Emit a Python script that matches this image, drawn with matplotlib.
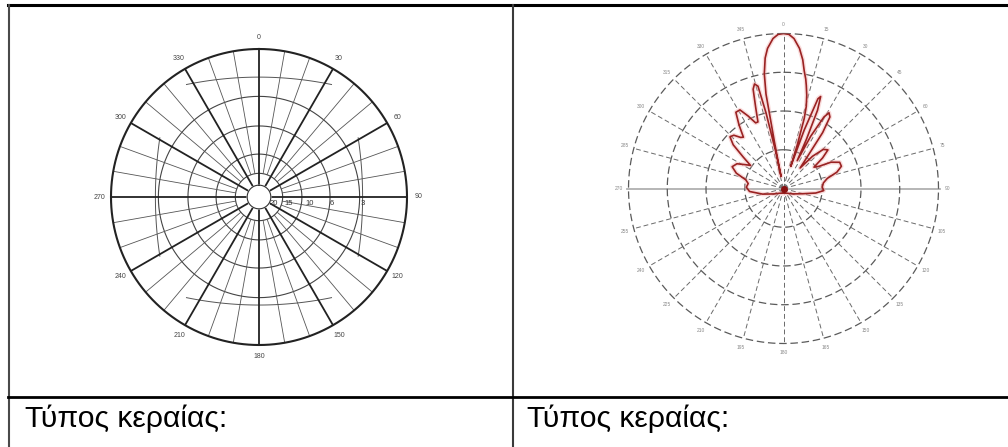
import numpy as np
import matplotlib
matplotlib.use("Agg")
import matplotlib.pyplot as plt

plt.rcParams['font.family'] = ['Liberation Sans', 'DejaVu Sans']

W, H = 1008, 447

# === Data ===
cell_label = "Τύπος κεραίας:"

# left chart: dB grid
left_angle_labels = list(range(0, 360, 30))
left_ring_r = [0.16, 0.29, 0.48, 0.68]
left_db_labels = ["20", "15", "10", "6", "3"]
left_db_r = [0.10, 0.20, 0.345, 0.49, 0.70]

# right chart: grid + measured pattern
right_ring_r = [0.25, 0.5, 0.75, 1.0]
right_angle_labels = list(range(0, 360, 15))
pattern_deg = [-180, -140, -120, -105, -95, -88, -82, -77, -72, -67, -62, -58, -55,
               -52, -49, -46, -43, -40, -38, -35, -32, -29, -26, -23, -21, -19, -17,
               -15.5, -14, -13, -12, -11.5, -11, -10.5, -9.5, -8, -6.5, -4, -2, 0,
               2, 4, 6.5, 8.5, 10, 11.5, 12.5, 14, 15.5, 16.5, 17.5, 18.2, 19.5, 21, 22,
               23.5, 25, 26.2, 27.5, 29.5, 31, 33, 35, 37, 39, 42, 45.5, 49, 52, 55, 58, 61, 65,
               69, 73, 77, 82, 88, 93, 98, 105, 120, 140, 180]
pattern_r = [0.03, 0.04, 0.07, 0.14, 0.22, 0.24, 0.23, 0.25, 0.32, 0.36, 0.34, 0.29, 0.26,
             0.33, 0.43, 0.48, 0.47, 0.43, 0.42, 0.50, 0.58, 0.58, 0.52, 0.46, 0.46, 0.55, 0.67,
             0.70, 0.68, 0.50, 0.25, 0.08, 0.30, 0.62, 0.75, 0.85, 0.91, 0.97, 0.995, 1.0,
             0.995, 0.97, 0.91, 0.84, 0.77, 0.72, 0.68, 0.62, 0.55, 0.47, 0.30, 0.15, 0.40, 0.62, 0.64,
             0.55, 0.35, 0.20, 0.38, 0.53, 0.57, 0.55, 0.44, 0.25, 0.17, 0.28, 0.36, 0.38, 0.32, 0.24, 0.27, 0.35, 0.40,
             0.40, 0.36, 0.29, 0.26, 0.25, 0.26, 0.21, 0.13, 0.07, 0.04, 0.03]

fig = plt.figure(figsize=(W / 100, H / 100), dpi=100)

# === table frame (pixel coords) ===
bg = fig.add_axes([0, 0, 1, 1])
bg.set_xlim(0, W)
bg.set_ylim(H, 0)
bg.axis('off')
bg.plot([8, W], [4.5, 4.5], color='black', lw=2.2)
bg.plot([8.5, 8.5], [4.5, H], color='#4a4a4a', lw=1.5)
bg.plot([513, 513], [4.5, H], color='#3a3a3a', lw=1.5)
bg.plot([8, W], [396.5, 396.5], color='black', lw=2.0)
bg.text(25, 427, cell_label, fontsize=21.7, color='black', va='baseline', ha='left')
bg.text(527, 427, cell_label, fontsize=21.7, color='black', va='baseline', ha='left')


def polar_ax(cx, cy, r):
    ax = fig.add_axes([(cx - r) / W, 1 - (cy + r) / H, 2 * r / W, 2 * r / H], projection='polar')
    ax.set_theta_zero_location('N')
    ax.set_theta_direction(-1)
    ax.set_ylim(0, 1)
    ax.grid(False)
    ax.set_xticks([])
    ax.set_yticks([])
    ax.spines['polar'].set_visible(False)
    ax.patch.set_alpha(0)
    return ax


def xy_curve(ax, x, y, **kw):
    # draw a curve given in cartesian units of the unit circle
    ax.plot(np.arctan2(x, y), np.hypot(x, y), **kw)


th = np.linspace(0, 2 * np.pi, 361)

# === left chart ===
axl = polar_ax(259, 197, 148)
for rr in left_ring_r:
    axl.plot(th, np.full_like(th, rr), color='#444444', lw=0.8)
# flattened arcs of the elevation grid
t = np.linspace(-0.49, 0.49, 60)
xy_curve(axl, t, 0.81 - 0.05 * (t / 0.49) ** 2, color='#555555', lw=0.7)
xy_curve(axl, t, -(0.73 - 0.05 * (t / 0.49) ** 2), color='#555555', lw=0.7)
s = np.linspace(-0.40, 0.40, 60)
xy_curve(axl, 0.70 - 0.03 * (s / 0.40) ** 2, s, color='#555555', lw=0.7)
xy_curve(axl, -(0.70 - 0.03 * (s / 0.40) ** 2), s, color='#555555', lw=0.7)
for a in range(0, 360, 10):
    if a % 30:
        axl.plot([np.radians(a)] * 2, [0.16, 1], color='#555555', lw=0.6)
for a in left_angle_labels:
    axl.plot([np.radians(a)] * 2, [0.08, 1], color='#222222', lw=1.3)
axl.plot(th, np.ones_like(th), color='#222222', lw=1.5, clip_on=False)
axl.fill(th, np.full_like(th, 0.08), color='white', zorder=5)
axl.plot(th, np.full_like(th, 0.08), color='#333333', lw=0.8, zorder=6)
for a in left_angle_labels:
    axl.text(np.radians(a), 1.08, str(a), fontsize=5, color='#444444',
             ha='center', va='center', clip_on=False)
for lab, rr in zip(left_db_labels, left_db_r):
    axl.annotate(lab, (np.pi / 2, rr), xytext=(0, -4.5), textcoords='offset points',
                 fontsize=5.5, color='#333333', ha='center', va='center', zorder=7)

# === right chart ===
axr = polar_ax(783.5, 188.5, 155)
for a in right_angle_labels:
    if a in (90, 270):
        continue
    axr.plot([np.radians(a)] * 2, [0, 1], color='#6a6a6a', lw=0.7, ls=(0, (5, 3)))
axr.plot([np.pi / 2] * 2, [0, 1.01], color='#b0b0b0', lw=1.3, clip_on=False)
axr.plot([3 * np.pi / 2] * 2, [0, 1.01], color='#b0b0b0', lw=1.3, clip_on=False)
for rr in right_ring_r:
    axr.plot(th, np.full_like(th, rr), color='#5a5a5a', lw=0.9, ls=(0, (6, 3)), clip_on=False)
for a in right_angle_labels:
    axr.text(np.radians(a), 1.06, str(a), fontsize=3.5, color='#888888',
             ha='center', va='center', clip_on=False)

pth = np.radians(pattern_deg)
axr.plot(pth, pattern_r, color='#f2a8a8', lw=3.2, alpha=0.4, zorder=8)
axr.plot(pth, pattern_r, color='#9a2222', lw=1.2, zorder=9)
axr.plot([0], [0], 'o', color='#8a1010', ms=4, zorder=10)

plt.savefig("out.png", dpi=100)
